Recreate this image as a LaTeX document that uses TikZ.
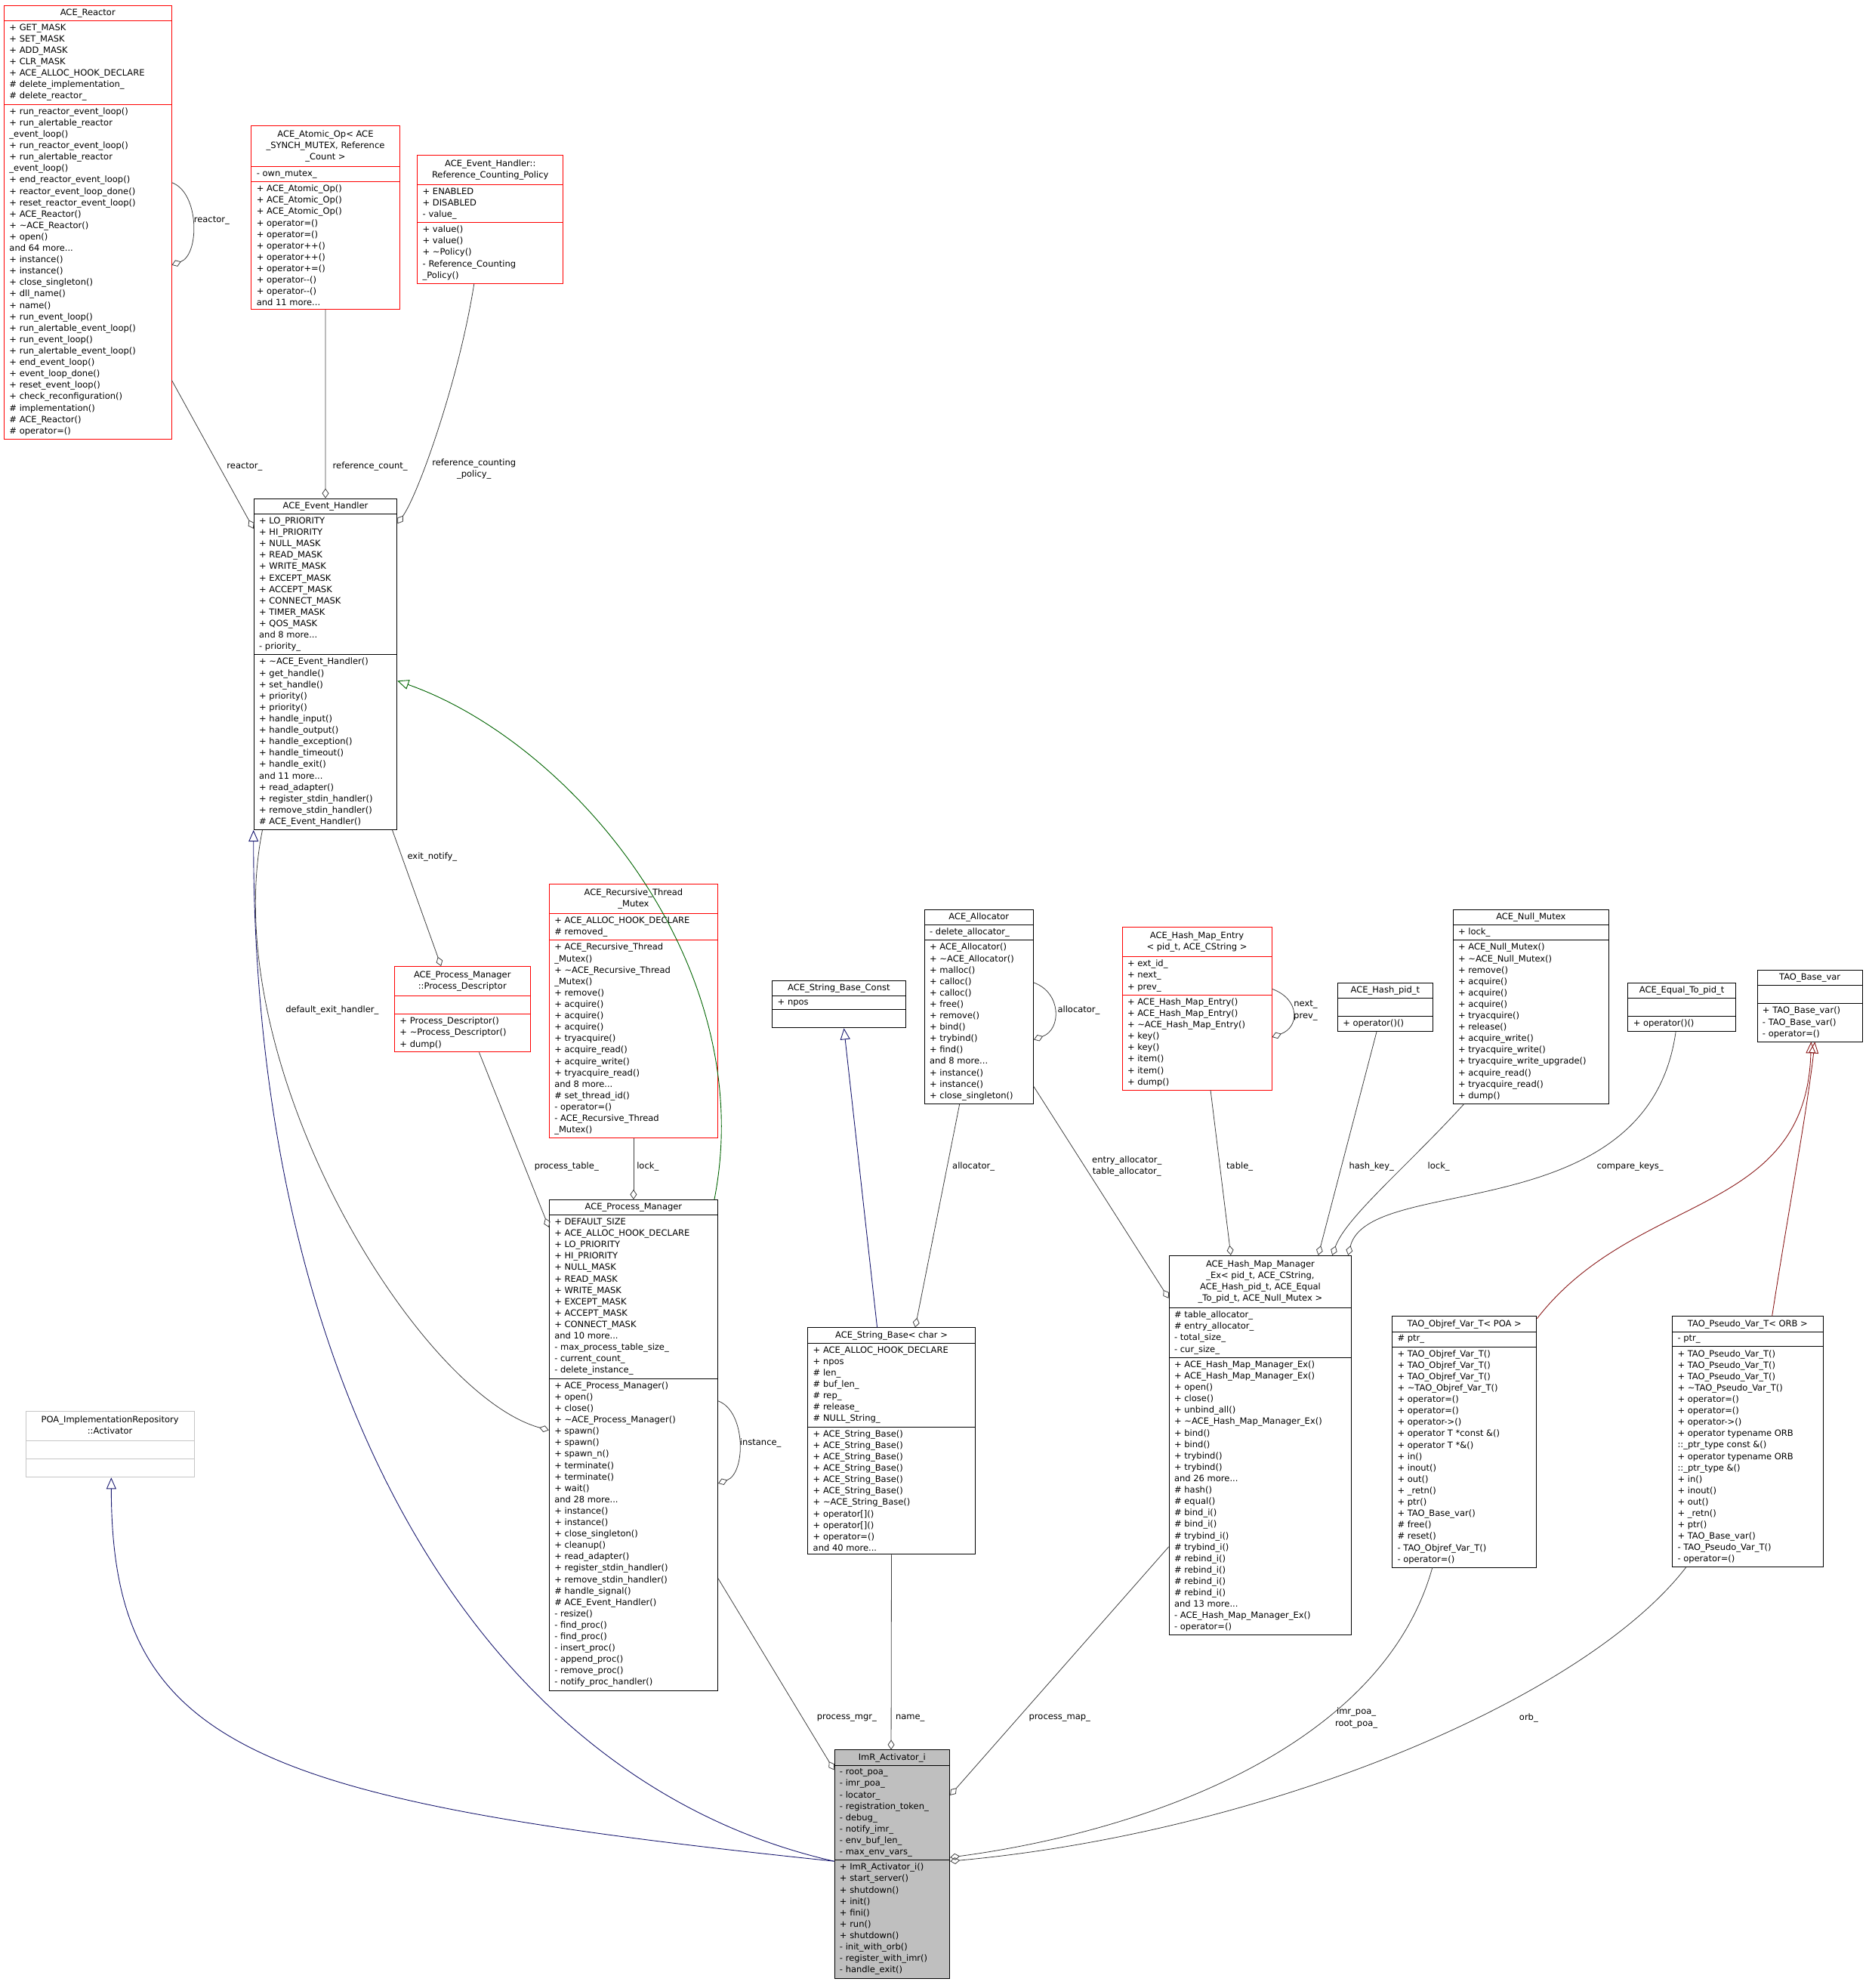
\documentclass[tikz,border=0pt]{standalone}
\usepackage{fontspec}
\setmainfont{DejaVu Sans}
\usetikzlibrary{shapes.multipart,arrows.meta,calc}
\newcommand\ttl[1]{\begin{tabular}{@{}c@{}}#1\end{tabular}}
\newcommand\tl{\textasciitilde{}}
\newcommand\cf{\fontsize{11.5}{15.1}\selectfont}
\definecolor{navy}{HTML}{191970}
\definecolor{dgreen}{HTML}{006400}
\definecolor{dred}{HTML}{8B1A1A}
\definecolor{edge}{HTML}{404040}
\tikzset{
 cls/.style={rectangle split, rectangle split parts=3, draw=black, line width=0.9pt,
   align=left, rectangle split part align={center,left,left}, minimum width=#1,
   inner xsep=7pt, inner ysep=4pt, anchor=north west, font=\cf,
   rectangle split empty part height=5pt},
 redcls/.style={cls=#1, draw=red},
 agg/.style={draw=edge, line width=0.8pt, -{Diamond[open,length=13pt,width=9pt]}},
 inh/.style={line width=0.9pt, -{Triangle[open,length=15pt,width=13pt]}},
 lbl/.style={font=\cf, align=center, inner sep=1pt}
}
\begin{document}
\begin{tikzpicture}[x=1.678pt,y=-1.678pt]
\useasboundingbox (0,0) rectangle (1474,1568);

\node[redcls=221.5pt] (reactor) at (3,4) {ACE\_Reactor
\nodepart{two}+ GET\_MASK\\+ SET\_MASK\\+ ADD\_MASK\\+ CLR\_MASK\\+ ACE\_ALLOC\_HOOK\_DECLARE\\\# delete\_implementation\_\\\# delete\_reactor\_
\nodepart{three}+ run\_reactor\_event\_loop()\\+ run\_alertable\_reactor\\\_event\_loop()\\+ run\_reactor\_event\_loop()\\+ run\_alertable\_reactor\\\_event\_loop()\\+ end\_reactor\_event\_loop()\\+ reactor\_event\_loop\_done()\\+ reset\_reactor\_event\_loop()\\+ ACE\_Reactor()\\+ \tl ACE\_Reactor()\\+ open()\\and 64 more...\\+ instance()\\+ instance()\\+ close\_singleton()\\+ dll\_name()\\+ name()\\+ run\_event\_loop()\\+ run\_alertable\_event\_loop()\\+ run\_event\_loop()\\+ run\_alertable\_event\_loop()\\+ end\_event\_loop()\\+ event\_loop\_done()\\+ reset\_event\_loop()\\+ check\_reconfiguration()\\\# implementation()\\\# ACE\_Reactor()\\\# operator=()};

\node[redcls=196.3pt] (atomic) at (198,99) {\ttl{ACE\_Atomic\_Op< ACE\\\_SYNCH\_MUTEX, Reference\\\_Count >}
\nodepart{two}- own\_mutex\_
\nodepart{three}+ ACE\_Atomic\_Op()\\+ ACE\_Atomic\_Op()\\+ ACE\_Atomic\_Op()\\+ operator=()\\+ operator=()\\+ operator++()\\+ operator++()\\+ operator+=()\\+ operator-{}-()\\+ operator-{}-()\\and 11 more...};

\node[redcls=193pt] (refpolicy) at (329,122) {\ttl{ACE\_Event\_Handler::\\Reference\_Counting\_Policy}
\nodepart{two}+ ENABLED\\+ DISABLED\\- value\_
\nodepart{three}+ value()\\+ value()\\+ \tl Policy()\\- Reference\_Counting\\\_Policy()};

\node[cls=189.6pt] (eh) at (200,393) {ACE\_Event\_Handler
\nodepart{two}+ LO\_PRIORITY\\+ HI\_PRIORITY\\+ NULL\_MASK\\+ READ\_MASK\\+ WRITE\_MASK\\+ EXCEPT\_MASK\\+ ACCEPT\_MASK\\+ CONNECT\_MASK\\+ TIMER\_MASK\\+ QOS\_MASK\\and 8 more...\\- priority\_
\nodepart{three}+ \tl ACE\_Event\_Handler()\\+ get\_handle()\\+ set\_handle()\\+ priority()\\+ priority()\\+ handle\_input()\\+ handle\_output()\\+ handle\_exception()\\+ handle\_timeout()\\+ handle\_exit()\\and 11 more...\\+ read\_adapter()\\+ register\_stdin\_handler()\\+ remove\_stdin\_handler()\\\# ACE\_Event\_Handler()};

\node[redcls=179.5pt] (procdesc) at (311,762) {\ttl{ACE\_Process\_Manager\\::Process\_Descriptor}
\nodepart{two}\strut
\nodepart{three}+ Process\_Descriptor()\\+ \tl Process\_Descriptor()\\+ dump()};

\node[redcls=223.2pt] (recmutex) at (433,697) {\ttl{ACE\_Recursive\_Thread\\\_Mutex}
\nodepart{two}+ ACE\_ALLOC\_HOOK\_DECLARE\\\# removed\_
\nodepart{three}+ ACE\_Recursive\_Thread\\\_Mutex()\\+ \tl ACE\_Recursive\_Thread\\\_Mutex()\\+ remove()\\+ acquire()\\+ acquire()\\+ acquire()\\+ tryacquire()\\+ acquire\_read()\\+ acquire\_write()\\+ tryacquire\_read()\\and 8 more...\\\# set\_thread\_id()\\- operator=()\\- ACE\_Recursive\_Thread\\\_Mutex()};

\node[cls=223.2pt] (procmgr) at (433,946) {ACE\_Process\_Manager
\nodepart{two}+ DEFAULT\_SIZE\\+ ACE\_ALLOC\_HOOK\_DECLARE\\+ LO\_PRIORITY\\+ HI\_PRIORITY\\+ NULL\_MASK\\+ READ\_MASK\\+ WRITE\_MASK\\+ EXCEPT\_MASK\\+ ACCEPT\_MASK\\+ CONNECT\_MASK\\and 10 more...\\- max\_process\_table\_size\_\\- current\_count\_\\- delete\_instance\_
\nodepart{three}+ ACE\_Process\_Manager()\\+ open()\\+ close()\\+ \tl ACE\_Process\_Manager()\\+ spawn()\\+ spawn()\\+ spawn\_n()\\+ terminate()\\+ terminate()\\+ wait()\\and 28 more...\\+ instance()\\+ instance()\\+ close\_singleton()\\+ cleanup()\\+ read\_adapter()\\+ register\_stdin\_handler()\\+ remove\_stdin\_handler()\\\# handle\_signal()\\\# ACE\_Event\_Handler()\\- resize()\\- find\_proc()\\- find\_proc()\\- insert\_proc()\\- append\_proc()\\- remove\_proc()\\- notify\_proc\_handler()};

\node[cls=176.2pt] (strbaseconst) at (609,773) {ACE\_String\_Base\_Const
\nodepart{two}+ npos
\nodepart{three}\strut};

\node[cls=144.3pt] (allocator) at (729,717) {ACE\_Allocator
\nodepart{two}- delete\_allocator\_
\nodepart{three}+ ACE\_Allocator()\\+ \tl ACE\_Allocator()\\+ malloc()\\+ calloc()\\+ calloc()\\+ free()\\+ remove()\\+ bind()\\+ trybind()\\+ find()\\and 8 more...\\+ instance()\\+ instance()\\+ close\_singleton()};

\node[redcls=198pt] (hashentry) at (885,731) {\ttl{ACE\_Hash\_Map\_Entry\\< pid\_t, ACE\_CString >}
\nodepart{two}+ ext\_id\_\\+ next\_\\+ prev\_
\nodepart{three}+ ACE\_Hash\_Map\_Entry()\\+ ACE\_Hash\_Map\_Entry()\\+ \tl ACE\_Hash\_Map\_Entry()\\+ key()\\+ key()\\+ item()\\+ item()\\+ dump()};

\node[cls=125.9pt] (hashpid) at (1055,775) {ACE\_Hash\_pid\_t
\nodepart{two}\strut
\nodepart{three}+ operator()()};

\node[cls=206.4pt] (nullmutex) at (1146,717) {ACE\_Null\_Mutex
\nodepart{two}+ lock\_
\nodepart{three}+ ACE\_Null\_Mutex()\\+ \tl ACE\_Null\_Mutex()\\+ remove()\\+ acquire()\\+ acquire()\\+ acquire()\\+ tryacquire()\\+ release()\\+ acquire\_write()\\+ tryacquire\_write()\\+ tryacquire\_write\_upgrade()\\+ acquire\_read()\\+ tryacquire\_read()\\+ dump()};

\node[cls=142.6pt] (equalpid) at (1284,775) {ACE\_Equal\_To\_pid\_t
\nodepart{two}\strut
\nodepart{three}+ operator()()};

\node[cls=139.3pt] (taobase) at (1386,765) {TAO\_Base\_var
\nodepart{two}\strut
\nodepart{three}+ TAO\_Base\_var()\\- TAO\_Base\_var()\\- operator=()};

\node[cls=221.5pt] (strbase) at (637,1047) {ACE\_String\_Base< char >
\nodepart{two}+ ACE\_ALLOC\_HOOK\_DECLARE\\+ npos\\\# len\_\\\# buf\_len\_\\\# rep\_\\\# release\_\\\# NULL\_String\_
\nodepart{three}+ ACE\_String\_Base()\\+ ACE\_String\_Base()\\+ ACE\_String\_Base()\\+ ACE\_String\_Base()\\+ ACE\_String\_Base()\\+ ACE\_String\_Base()\\+ \tl ACE\_String\_Base()\\+ operator[]()\\+ operator[]()\\+ operator=()\\and 40 more...};

\node[cls=241.6pt] (hashmgr) at (922,990) {\ttl{ACE\_Hash\_Map\_Manager\\\_Ex< pid\_t, ACE\_CString,\\ ACE\_Hash\_pid\_t, ACE\_Equal\\\_To\_pid\_t, ACE\_Null\_Mutex >}
\nodepart{two}\# table\_allocator\_\\\# entry\_allocator\_\\- total\_size\_\\- cur\_size\_
\nodepart{three}+ ACE\_Hash\_Map\_Manager\_Ex()\\+ ACE\_Hash\_Map\_Manager\_Ex()\\+ open()\\+ close()\\+ unbind\_all()\\+ \tl ACE\_Hash\_Map\_Manager\_Ex()\\+ bind()\\+ bind()\\+ trybind()\\+ trybind()\\and 26 more...\\\# hash()\\\# equal()\\\# bind\_i()\\\# bind\_i()\\\# trybind\_i()\\\# trybind\_i()\\\# rebind\_i()\\\# rebind\_i()\\\# rebind\_i()\\\# rebind\_i()\\and 13 more...\\- ACE\_Hash\_Map\_Manager\_Ex()\\- operator=()};

\node[cls=191.3pt] (objref) at (1098,1038) {TAO\_Objref\_Var\_T< POA >
\nodepart{two}\# ptr\_
\nodepart{three}+ TAO\_Objref\_Var\_T()\\+ TAO\_Objref\_Var\_T()\\+ TAO\_Objref\_Var\_T()\\+ \tl TAO\_Objref\_Var\_T()\\+ operator=()\\+ operator=()\\+ operator->()\\+ operator T *const \&()\\+ operator T *\&()\\+ in()\\+ inout()\\+ out()\\+ \_retn()\\+ ptr()\\+ TAO\_Base\_var()\\\# free()\\\# reset()\\- TAO\_Objref\_Var\_T()\\- operator=()};

\node[cls=199.7pt] (pseudo) at (1319,1038) {TAO\_Pseudo\_Var\_T< ORB >
\nodepart{two}- ptr\_
\nodepart{three}+ TAO\_Pseudo\_Var\_T()\\+ TAO\_Pseudo\_Var\_T()\\+ TAO\_Pseudo\_Var\_T()\\+ \tl TAO\_Pseudo\_Var\_T()\\+ operator=()\\+ operator=()\\+ operator->()\\+ operator typename ORB\\::\_ptr\_type const \&()\\+ operator typename ORB\\::\_ptr\_type \&()\\+ in()\\+ inout()\\+ out()\\+ \_retn()\\+ ptr()\\+ TAO\_Base\_var()\\- TAO\_Pseudo\_Var\_T()\\- operator=()};

\node[cls=223.2pt, draw=gray!45] (poa) at (20,1113) {\ttl{POA\_ImplementationRepository\\::Activator}
\nodepart{two}\strut
\nodepart{three}\strut};

\node[cls=152.7pt, fill=gray!50] (imr) at (658,1380) {ImR\_Activator\_i
\nodepart{two}- root\_poa\_\\- imr\_poa\_\\- locator\_\\- registration\_token\_\\- debug\_\\- notify\_imr\_\\- env\_buf\_len\_\\- max\_env\_vars\_
\nodepart{three}+ ImR\_Activator\_i()\\+ start\_server()\\+ shutdown()\\+ init()\\+ fini()\\+ run()\\+ shutdown()\\- init\_with\_orb()\\- register\_with\_imr()\\- handle\_exit()};

% aggregations
\draw[agg] ($(reactor.north east)+(0,296)$) -- ($(eh.north west)+(0,24)$);
\node[lbl] (l1) at (193,368) {reactor\_};
\draw[agg] ($(reactor.north east)+(0,140)$) .. controls +(22,8) and +(22,-8) .. ($(reactor.north east)+(0,205)$);
\node[lbl] (l2) at (167,174) {reactor\_};
\draw[agg] (atomic.south) -- (eh.north);
\node[lbl] (l3) at (292,368) {reference\_count\_};
\draw[agg] ($(refpolicy.south west)+(45,0)$) .. controls (362,300) and (330,390) .. ($(eh.north east)+(0,20)$);
\node[lbl] (l4) at (374,370) {reference\_counting\\\_policy\_};
\draw[agg] ($(eh.south east)+(-4,0)$) -- ($(procdesc.north west)+(37,0)$);
\node[lbl] (l5) at (341,676) {exit\_notify\_};
\draw[agg] ($(procdesc.south west)+(67,0)$) -- ($(procmgr.north west)+(0,22)$);
\node[lbl] (l6) at (447,920) {process\_table\_};
\draw[agg] (recmutex.south) -- (procmgr.north);
\node[lbl] (l7) at (511,920) {lock\_};
\draw[agg] ($(eh.south west)+(7,0)$) .. controls (170,840) and (330,1100) .. ($(procmgr.north west)+(0,182)$);
\node[lbl] (l8) at (262,797) {default\_exit\_handler\_};
\draw[agg] ($(procmgr.north east)+(0,159)$) .. controls +(22,8) and +(22,-8) .. ($(procmgr.north east)+(0,224)$);
\node[lbl] (l9) at (600,1138) {instance\_};
\draw[agg] ($(allocator.south west)+(28,0)$) -- ($(strbase.north west)+(85,0)$);
\node[lbl] (l10) at (768,920) {allocator\_};
\draw[agg] ($(allocator.north east)+(0,58)$) .. controls +(22,8) and +(22,-8) .. ($(allocator.north east)+(0,103)$);
\node[lbl] (l11) at (851,797) {allocator\_};
\draw[agg] ($(allocator.north east)+(0,140)$) -- ($(hashmgr.north west)+(0,34)$);
\node[lbl] (l12) at (889,920) {entry\_allocator\_\\table\_allocator\_};
\draw[agg] ($(hashentry.south west)+(70,0)$) -- ($(hashmgr.north west)+(49,0)$);
\node[lbl] (l13) at (978,920) {table\_};
\draw[agg] ($(hashentry.north east)+(0,49)$) .. controls +(22,8) and +(22,-8) .. ($(hashentry.north east)+(0,87)$);
\node[lbl] (l14) at (1030,797) {next\_\\prev\_};
\draw[agg] ($(hashpid.south west)+(31,0)$) -- ($(hashmgr.north west)+(118,0)$);
\node[lbl] (l15) at (1082,920) {hash\_key\_};
\draw[agg] ($(nullmutex.south west)+(9,0)$) .. controls (1110,920) and (1062,960) .. ($(hashmgr.north west)+(129,0)$);
\node[lbl] (l16) at (1135,920) {lock\_};
\draw[agg] ($(equalpid.south west)+(38,0)$) .. controls (1300,970) and (1080,925) .. ($(hashmgr.north east)+(-3,0)$);
\node[lbl] (l17) at (1286,920) {compare\_keys\_};
\draw[agg] ($(procmgr.north east)+(0,299)$) -- ($(imr.north west)+(0,16)$);
\node[lbl] (l18) at (668,1355) {process\_mgr\_};
\draw[agg] (strbase.south) -- ($(imr.north west)+(45,0)$);
\node[lbl] (l19) at (718,1355) {name\_};
\draw[agg] ($(hashmgr.north west)+(0,230)$) -- ($(imr.north east)+(0,36)$);
\node[lbl] (l20) at (836,1355) {process\_map\_};
\draw[agg] ($(objref.south west)+(32,0)$) .. controls (1090,1380) and (900,1445) .. ($(imr.north east)+(0,85)$);
\node[lbl] (l21) at (1070,1355) {imr\_poa\_\\root\_poa\_};
\draw[agg] ($(pseudo.south west)+(11,0)$) .. controls (1250,1340) and (1000,1445) .. ($(imr.north east)+(0,88)$);
\node[lbl] (l22) at (1206,1355) {orb\_};

% inheritance
\draw[inh, dgreen] ($(procmgr.north east)+(-3,0)$) .. controls (600,760) and (450,585) .. ($(eh.north east)+(0,144)$);
\draw[inh, navy] ($(strbase.north west)+(55,0)$) -- ($(strbaseconst.south)+(4,0)$);
\draw[inh, dred] ($(objref.north east)+(0,2)$) .. controls (1290,940) and (1425,960) .. ($(taobase.south)+(1,0)$);
\draw[inh, dred] ($(pseudo.north west)+(79,0)$) .. controls (1410,960) and (1425,880) .. ($(taobase.south)+(4,0)$);
\draw[inh, navy] ($(imr.north west)+(0,88)$) .. controls (380,1405) and (200,1100) .. (eh.south west);
\draw[inh, navy] ($(imr.north west)+(0,88)$) .. controls (200,1420) and (88,1380) .. ($(poa.south)+(1,0)$);
\end{tikzpicture}
\end{document}
